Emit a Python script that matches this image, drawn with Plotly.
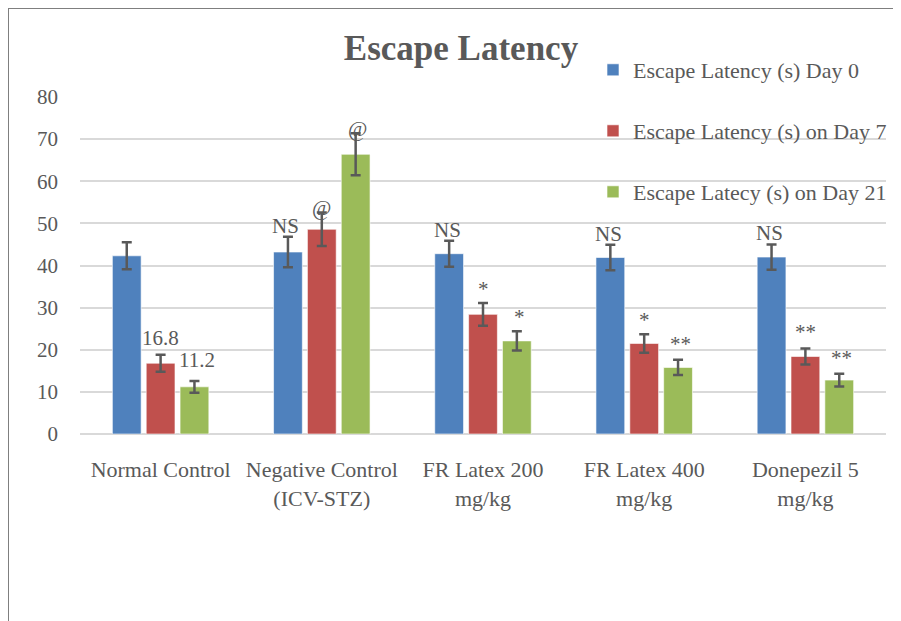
import plotly.graph_objects as go

categories = ["Normal Control", "Negative Control<br>(ICV-STZ)", "FR Latex 200<br>mg/kg",
              "FR Latex 400<br>mg/kg", "Donepezil 5<br>mg/kg"]
series_names = ["Escape Latency (s) Day 0", "Escape Latency (s) on Day 7",
                "Escape Latecy (s) on Day 21"]
day0 = [42.3, 43.2, 42.8, 41.9, 42.0]
day7 = [16.8, 48.6, 28.4, 21.5, 18.4]
day21 = [11.2, 66.4, 22.1, 15.8, 12.8]
err0 = [3.2, 3.6, 3.1, 3.0, 3.0]
err7 = [2.0, 4.0, 2.7, 2.2, 1.9]
err21 = [1.4, 5.0, 2.3, 1.8, 1.5]
marks0 = ["", "NS", "NS", "NS", "NS"]
marks7 = ["16.8", "@", "*", "*", "**"]
marks21 = ["11.2", "@", "*", "**", "**"]
y_ticks = [0, 10, 20, 30, 40, 50, 60, 70, 80]

colors = ["#4F81BD", "#C0504D", "#9BBB59"]
TXT = "#595959"
FONT = "Liberation Serif, Times New Roman, serif"

# figure is placed by the page at (8, 8); work in figure pixel coordinates
W, H = 893, 613
L, R, T, B = 72, 15, 89, 187
PW, PH = W - L - R, H - T - B


def px(xf):
    return (xf - L) / PW


def py(yf):
    return (H - B - yf) / PH


values = [day0, day7, day21]
errors = [err0, err7, err21]
marks = [marks0, marks7, marks21]

fig = go.Figure()
legend_ids = ["legend", "legend2", "legend3"]
for i in range(3):
    fig.add_trace(go.Bar(
        x=categories, y=values[i], name=series_names[i],
        marker=dict(color=colors[i], line=dict(color="rgba(255,255,255,0.6)", width=1)),
        error_y=dict(type="data", array=errors[i], visible=True,
                     color=TXT, thickness=2.5, width=5),
        legend=legend_ids[i],
    ))

offsets = [-36, 0, 36]
yshift_by_mark = {"NS": -3, "@": -10, "*": 0, "**": 2, "16.8": 3, "11.2": 7}
annotations = []
for i in range(3):
    for j, c in enumerate(categories):
        t = marks[i][j]
        if not t:
            continue
        annotations.append(dict(
            x=c, y=values[i][j] + errors[i][j], xref="x", yref="y",
            text=t, showarrow=False, xshift=offsets[i], yanchor="bottom",
            yshift=yshift_by_mark.get(t, 0),
            font=dict(family=FONT, size=21, color=TXT)))

leg_common = dict(bgcolor="rgba(0,0,0,0)", font=dict(family=FONT, size=22, color=TXT),
                  xanchor="left", yanchor="middle", itemwidth=30)
lx = px(585)
fig.update_layout(
    width=W, height=H,
    paper_bgcolor="white", plot_bgcolor="white",
    margin=dict(l=L, r=R, t=T, b=B, autoexpand=False),
    title=dict(text="<b>Escape Latency</b>", x=453 / W, xanchor="center",
               y=1 - 40 / H, yanchor="middle",
               font=dict(family=FONT, size=35, color=TXT)),
    barmode="group", bargap=0.37, bargroupgap=0.15,
    showlegend=True,
    legend=dict(x=lx, y=py(62), **leg_common),
    legend2=dict(x=lx, y=py(123), **leg_common),
    legend3=dict(x=lx, y=py(184), **leg_common),
    xaxis=dict(type="category", showgrid=False, showline=False, ticks="",
               tickfont=dict(family=FONT, size=22, color=TXT), ticklabelstandoff=20),
    yaxis=dict(range=[0, 80], tickvals=y_ticks, showgrid=True, gridcolor="#D9D9D9",
               gridwidth=1.5, zeroline=True, zerolinecolor="#D9D9D9", zerolinewidth=1.5,
               showline=False, ticks="", ticklabelstandoff=21,
               tickfont=dict(family=FONT, size=21, color=TXT)),
    annotations=annotations,
    shapes=[
        dict(type="line", xref="paper", yref="paper",
             x0=px(0), x1=px(0), y0=py(0), y1=py(H + 5),
             line=dict(color="#7F7F7F", width=2)),
        dict(type="line", xref="paper", yref="paper",
             x0=px(0), x1=px(W + 5), y0=py(0), y1=py(0),
             line=dict(color="#7F7F7F", width=2)),
    ],
)

fig.write_html("out.html")
